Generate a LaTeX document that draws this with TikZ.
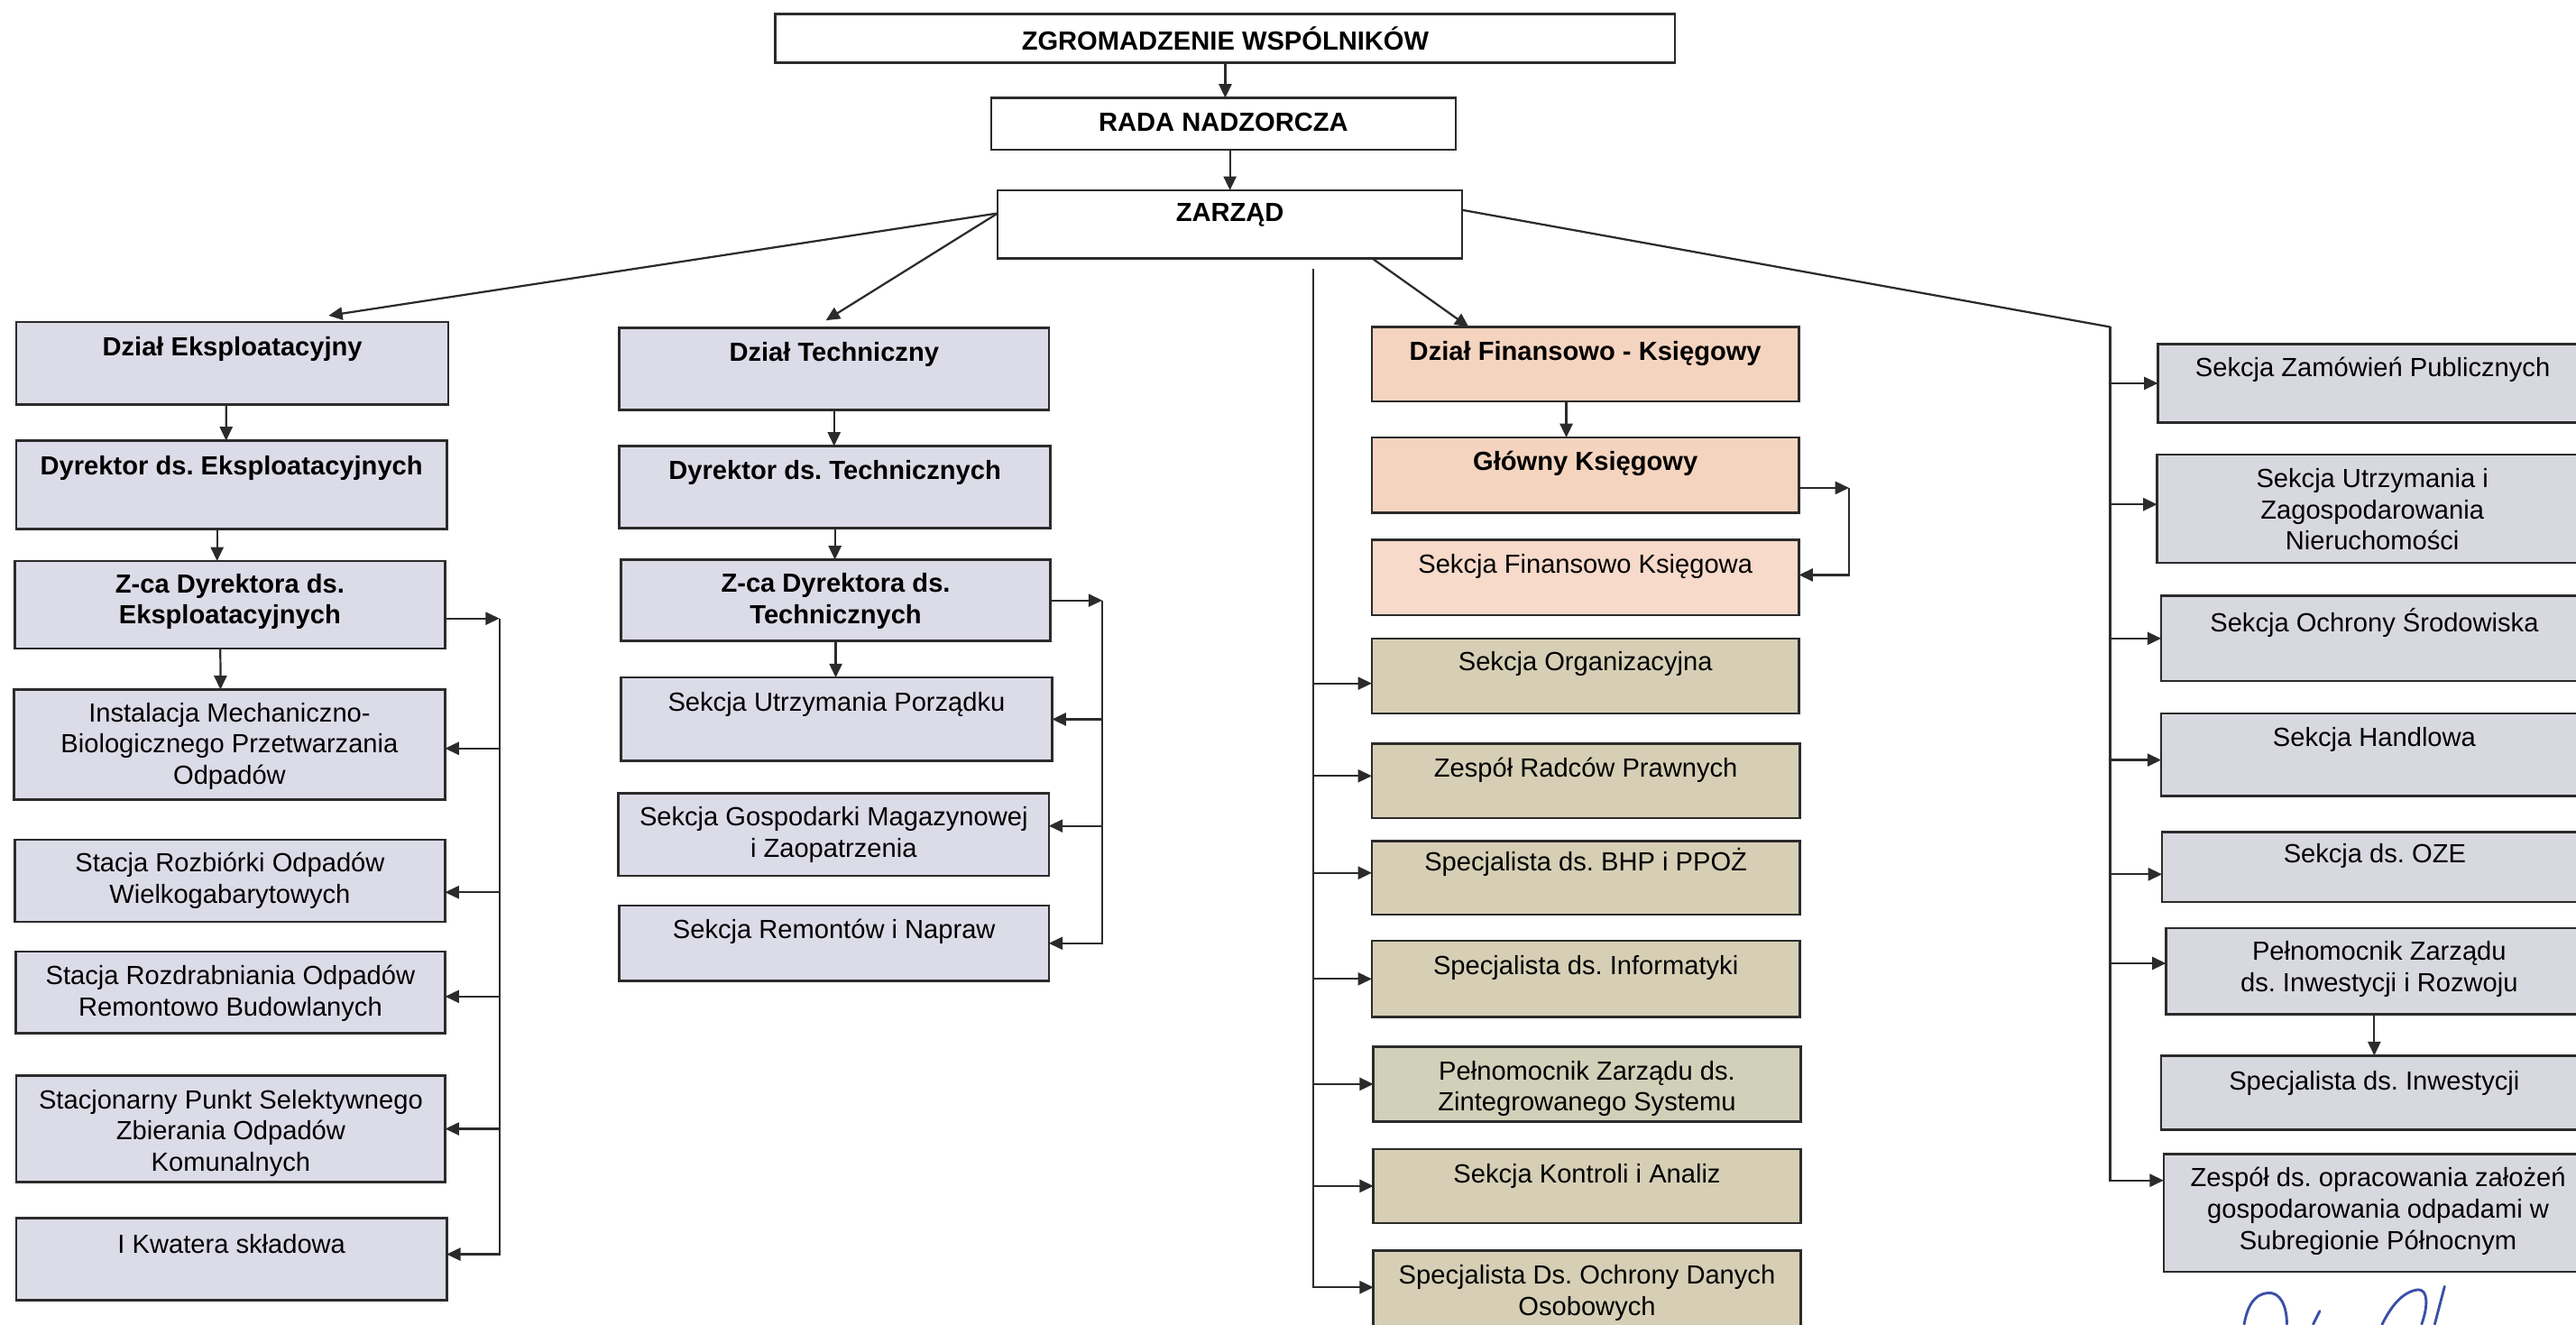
\documentclass[tikz,border=0pt]{standalone}
\usepackage{fontspec}
\setmainfont{Liberation Sans}
\usetikzlibrary{arrows.meta,calc}
\definecolor{linec}{HTML}{2B2B2B}
\definecolor{lav}{HTML}{DCDBE8}
\definecolor{gry}{HTML}{D8D8E0}
\definecolor{pch}{HTML}{F5D4BF}
\definecolor{pchl}{HTML}{F7DACA}
\definecolor{kha}{HTML}{D6CFB5}
\definecolor{kgr}{HTML}{D1D0B9}
\definecolor{sigc}{HTML}{3A4FA8}
\frenchspacing
\tikzset{
  box/.style={draw=linec, line width=0.8pt, inner sep=0pt, outer sep=0pt},
  txt/.style={font=\fontsize{9.1pt}{10.8pt}\selectfont, align=center, inner sep=0pt, text=black},
  txtb/.style={font=\fontsize{9.1pt}{10.8pt}\selectfont\bfseries, align=center, inner sep=0pt, text=black},
  ln/.style={draw=linec, line width=0.7pt},
  >={Triangle[length=4.8pt,width=4.4pt]},
  sig/.style={draw=sigc, line width=0.9pt, line cap=round},
}
\newcommand\obox[9]{%
  \node[box,fill=#2,minimum width={(#5-#3)*0.02cm},minimum height={(#6-#4)*0.02cm}] (#1) at ({(#3+#5)/2},{(#4+#6)/2}) {};
  \node[#9] (#1t) at ({(#3+#5)/2},#7) {#8};
}
\begin{document}
\frenchspacing
\begin{tikzpicture}[x=0.02cm,y=-0.02cm]
\useasboundingbox (0,0) rectangle (1568,806);
\clip (0,0) rectangle (1568,806);
\fill[white] (0,0) rectangle (1568,806);

% top
\obox{zw}{white}{472}{8.6}{1019.6}{38.3}{23.3}{ZGROMADZENIE WSPÓLNIKÓW}{txtb}
\obox{rn}{white}{603.4}{59.6}{886}{91.2}{74.6}{RADA NADZORCZA}{txtb}
\obox{zd}{white}{607.3}{115.8}{890}{157.3}{130.8}{ZARZĄD}{txtb}

% left column
\obox{de}{lav}{10}{196.1}{272.9}{246.1}{212.5}{Dział Eksploatacyjny}{txtb}
\obox{dde}{lav}{10}{268.2}{271.9}{322}{285}{Dyrektor ds. Eksploatacyjnych}{txtb}
\obox{ze}{lav}{9}{341.5}{270.9}{394.8}{366.2}{Z-ca Dyrektora ds.\\Eksploatacyjnych}{txtb}
\obox{mb}{lav}{8.5}{419.7}{270.9}{486.6}{454.2}{Instalacja Mechaniczno-\\Biologicznego Przetwarzania\\Odpadów}{txt}
\obox{sr}{lav}{9}{511.2}{270.9}{561}{536.1}{Stacja Rozbiórki Odpadów\\Wielkogabarytowych}{txt}
\obox{srb}{lav}{9.5}{579.3}{271}{628.8}{604.5}{Stacja Rozdrabniania Odpadów\\Remontowo Budowlanych}{txt}
\obox{ps}{lav}{10}{654.7}{271}{719.5}{689.7}{Stacjonarny Punkt Selektywnego\\Zbierania Odpadów\\Komunalnych}{txt}
\obox{kw}{lav}{10}{741.4}{271.9}{791.5}{757.4}{I Kwatera składowa}{txt}

% technical column
\obox{dt}{lav}{377}{199.5}{638.4}{249.5}{215.8}{Dział Techniczny}{txtb}
\obox{ddt}{lav}{377}{271.5}{639.4}{321.3}{287.6}{Dyrektor ds. Technicznych}{txtb}
\obox{zt}{lav}{378}{340.7}{639.4}{390.2}{365.9}{Z-ca Dyrektora ds.\\Technicznych}{txtb}
\obox{su}{lav}{378}{412.4}{640.4}{463.2}{428.5}{Sekcja Utrzymania Porządku}{txt}
\obox{sg}{lav}{376.5}{482.9}{638.4}{533.1}{508.2}{Sekcja Gospodarki Magazynowej\\i Zaopatrzenia}{txt}
\obox{srn}{lav}{377}{551.3}{638.4}{597}{567.1}{Sekcja Remontów i Napraw}{txt}

% finance column
\obox{df}{pch}{835}{199}{1095}{244.3}{215}{Dział Finansowo - Księgowy}{txtb}
\obox{gk}{pch}{835}{266.3}{1095}{312.2}{282.4}{Główny Księgowy}{txtb}
\obox{sf}{pchl}{835}{328.5}{1095}{374.4}{344.6}{Sekcja Finansowo Księgowa}{txt}
\obox{so}{kha}{835}{388.6}{1095}{434.3}{404}{Sekcja Organizacyjna}{txt}
\obox{zrp}{kha}{835}{452.6}{1095.5}{498}{468.6}{Zespół Radców Prawnych}{txt}
\obox{bhp}{kha}{835}{511.8}{1095.5}{556.8}{525}{Specjalista ds. BHP i PPOŻ}{txt}
\obox{inf}{kha}{835}{572.6}{1095.5}{619.1}{589.3}{Specjalista ds. Informatyki}{txt}
\obox{pzs}{kgr}{836}{637}{1096}{682.7}{662.6}{Pełnomocnik Zarządu ds.\\Zintegrowanego Systemu}{txt}
\obox{ska}{kha}{836}{699.4}{1096}{744.4}{716.1}{Sekcja Kontroli i Analiz}{txt}
\obox{odo}{kha}{836}{761.1}{1096}{812}{787}{Specjalista Ds. Ochrony Danych\\Osobowych}{txt}

% right column
\obox{szp}{gry}{1313.5}{209.3}{1575}{257.3}{225}{Sekcja Zamówień Publicznych}{txt}
\obox{szn}{gry}{1313}{276.7}{1575}{342.5}{310}{Sekcja Utrzymania i\\Zagospodarowania\\Nieruchomości}{txt}
\obox{sos}{gry}{1315.5}{362.7}{1575}{414.5}{378.8}{Sekcja Ochrony Środowiska}{txt}
\obox{sh}{gry}{1315.5}{434.3}{1575}{484.5}{450.4}{Sekcja Handlowa}{txt}
\obox{oze}{gry}{1316}{506.4}{1575}{548.9}{520.9}{Sekcja ds. OZE}{txt}
\obox{pir}{gry}{1318.4}{565}{1578}{617.3}{589.9}{Pełnomocnik Zarządu\\ds. Inwestycji i Rozwoju}{txt}
\obox{si}{gry}{1315.4}{642.5}{1575}{687.5}{659.3}{Specjalista ds. Inwestycji}{txt}
\obox{zsp}{gry}{1317}{702.4}{1578}{774.2}{737.2}{Zespół ds. opracowania założeń\\gospodarowania odpadami w\\Subregionie Północnym}{txt}

% connectors top
\draw[ln,->] (zw.south) -- (zw.south |- rn.north);
\draw[ln,->] (rn.south -| zd.north) -- (zd.north);
\draw[ln,->] ($(zd.north west)+(0,14)$) -- ($(de.north west)+(190,-4)$);
\draw[ln,->] ($(zd.north west)+(0,14)$) -- ($(dt.north)+(-5,-4.5)$);
\draw[ln,->] ($(zd.south west)+(228,0)$) -- ($(df.north west)+(59,0)$);
\coordinate (mj) at ($(zd.south west)+(192,6.5)$);
\coordinate (rj) at ($(zd.north east)+(394.4,83.2)$);
\draw[ln] ($(zd.north east)+(0,12)$) -- (rj);

% left column connectors
\draw[ln,->] ($(de.south)+(-3.8,0)$) -- ($(dde.north)+(-3.3,0)$);
\draw[ln,->] ($(dde.south)+(-8.8,0)$) -- ($(ze.north)+(-7.8,0)$);
\draw[ln,->] ($(ze.south)+(-5.8,0)$) -- ($(mb.north)+(-5.5,0)$);
\coordinate (eT) at ($(ze.east)+(33.1,8.3)$);
\draw[ln,->] ($(ze.east)+(0,8.3)$) -- (eT);
\draw[ln,<-] ($(mb.east)+(0,2.4)$) -| (eT);
\draw[ln,<-] ($(sr.east)+(0,7)$) -| (eT);
\draw[ln,<-] ($(srb.east)+(0,2.5)$) -| (eT);
\draw[ln,<-] (ps.east) -| (eT);
\draw[ln,<-] ($(kw.east)+(0,-3)$) -| (eT);

% technical column connectors
\draw[ln,->] (dt.south) -- (dt.south |- ddt.north);
\draw[ln,->] (ddt.south) -- (ddt.south |- zt.north);
\draw[ln,->] (zt.south) -- (zt.south |- su.north);
\coordinate (tT) at ($(zt.east)+(31.6,0)$);
\draw[ln,->] (zt.east) -- (tT);
\draw[ln,<-] (su.east) -| (tT);
\draw[ln,<-] ($(sg.east)+(0,-5.3)$) -| (tT);
\draw[ln,<-] (srn.east) -| (tT);

% finance column connectors
\draw[ln,->] ($(df.south)+(-11.6,0)$) -- ($(gk.north)+(-11.6,0)$);
\coordinate (fT) at ($(gk.east)+(30.5,7.7)$);
\draw[ln,->] ($(gk.east)+(0,7.7)$) -- (fT);
\draw[ln,<-] ($(sf.east)+(0,-1.5)$) -| (fT);
\draw[ln,<-] ($(so.west)+(0,4.5)$) -| (mj);
\draw[ln,<-] ($(zrp.west)+(0,-3)$) -| (mj);
\draw[ln,<-] ($(bhp.west)+(0,-3)$) -| (mj);
\draw[ln,<-] (inf.west) -| (mj);
\draw[ln,<-] (pzs.west) -| (mj);
\draw[ln,<-] (ska.west) -| (mj);
\draw[ln,<-] ($(odo.west)+(0,-3)$) -| (mj);

% right column connectors
\draw[ln,<-] (szp.west) -| (rj);
\draw[ln,<-] ($(szn.west)+(0,-2.6)$) -| (rj);
\draw[ln,<-] (sos.west) -| (rj);
\draw[ln,<-] ($(sh.west)+(0,3.2)$) -| (rj);
\draw[ln,<-] ($(oze.west)+(0,4.5)$) -| (rj);
\draw[ln,<-] ($(pir.west)+(0,-4.8)$) -| (rj);
\draw[ln,<-] ($(zsp.west)+(0,-19.8)$) -| (rj);
\draw[ln,->] (si.north |- pir.south) -- (si.north);

% signature
\draw[sig] (1366,806) .. controls (1368,795) and (1372,788) .. (1380,787) .. controls (1388,786) and (1392,795) .. (1392,806);
\draw[sig] (1408,806) -- (1412,798);
\draw[sig] (1450,806) .. controls (1455,796) and (1462,786) .. (1472,785) .. controls (1478,785) and (1478,795) .. (1474,806);
\draw[sig] (1488,783) -- (1482,806);
\end{tikzpicture}
\end{document}
